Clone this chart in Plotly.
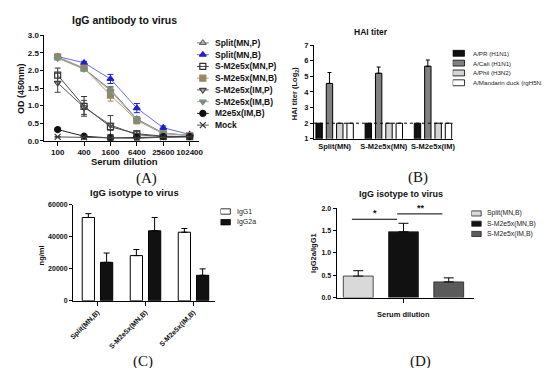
import plotly.graph_objects as go

W, H = 550, 368

# ---------------- data ----------------
# Panel A: IgG antibody to virus (OD 450nm)
dilutions = ["100", "400", "1600", "6400", "25600", "102400"]
a_names = ["Split(MN,P)", "Split(MN,B)", "S-M2e5x(MN,P)", "S-M2e5x(MN,B)",
           "S-M2e5x(IM,P)", "S-M2e5x(IM,B)", "M2e5x(IM,B)", "Mock"]
od_split_mn_p = [2.37, 2.05, 1.46, 0.62, 0.22, 0.15]
od_split_mn_b = [2.40, 2.22, 1.76, 0.93, 0.37, 0.18]
od_sm2e_mn_p = [1.87, 0.98, 0.40, 0.20, 0.13, 0.12]
od_sm2e_mn_b = [2.39, 2.07, 1.30, 0.58, 0.20, 0.15]
od_sm2e_im_p = [1.65, 0.95, 0.45, 0.17, 0.12, 0.12]
od_sm2e_im_b = [2.35, 2.04, 1.42, 0.60, 0.22, 0.15]
od_m2e_im_b = [0.32, 0.13, 0.08, 0.10, 0.12, 0.12]
od_mock = [0.11, 0.10, 0.08, 0.07, 0.10, 0.11]
err_split_mn_p = [0.03, 0.05, 0.08, 0.06, 0.03, 0.02]
err_split_mn_b = [0.03, 0.04, 0.13, 0.13, 0.05, 0.03]
err_sm2e_mn_p = [0.20, 0.28, 0.10, 0.08, 0.03, 0.02]
err_sm2e_mn_b = [0.03, 0.06, 0.17, 0.10, 0.04, 0.02]
err_sm2e_im_p = [0.27, 0.20, 0.27, 0.10, 0.03, 0.02]
err_sm2e_im_b = [0.03, 0.05, 0.10, 0.07, 0.03, 0.02]
err_m2e_im_b = [0.04, 0.02, 0.02, 0.02, 0.02, 0.02]
err_mock = [0.01, 0.01, 0.01, 0.01, 0.01, 0.01]
a_values = [od_split_mn_p, od_split_mn_b, od_sm2e_mn_p, od_sm2e_mn_b,
            od_sm2e_im_p, od_sm2e_im_b, od_m2e_im_b, od_mock]
a_errors = [err_split_mn_p, err_split_mn_b, err_sm2e_mn_p, err_sm2e_mn_b,
            err_sm2e_im_p, err_sm2e_im_b, err_m2e_im_b, err_mock]

# Panel B: HAI titer (log2)
hai_groups = ["Split(MN)", "S-M2e5x(MN)", "S-M2e5x(IM)"]
hai_strains = ["A/PR (H1N1)", "A/Cali (H1N1)", "A/Phil (H3N2)", "A/Mandarin duck (rgH5N1)"]
hai_pr = [2, 2, 2]
hai_cali = [4.55, 5.2, 5.65]
hai_cali_err = [0.7, 0.4, 0.4]
hai_phil = [2, 2, 2]
hai_duck = [2, 2, 2]
hai_limit = 2

# Panel C: IgG isotype to virus (ng/ml)
iso_groups = ["Split(MN,B)", "S-M2e5x(MN,B)", "S-M2e5x(IM,B)"]
iso_names = ["IgG1", "IgG2a"]
igg1 = [52000, 28200, 42800]
igg1_err = [2400, 3800, 2300]
igg2a = [24000, 43700, 15900]
igg2a_err = [5800, 8300, 4000]

# Panel D: IgG2a/IgG1 ratio
ratio_groups = ["Split(MN,B)", "S-M2e5x(MN,B)", "S-M2e5x(IM,B)"]
ratio = [0.48, 1.47, 0.35]
ratio_err = [0.12, 0.19, 0.09]
sig_pairs = [(0, 1), (1, 2)]
sig_labels = ["*", "**"]
sig_heights = [1.75, 1.87]

# ---------------- styles ----------------
SANS = "Liberation Sans, Arial, sans-serif"
SERIF = "Liberation Serif, Times New Roman, serif"
a_styles = [
    dict(symbol="triangle-up-open", mc="#666666", lc="#777777"),
    dict(symbol="triangle-up", mc="#2020cc", lc="#6a6ae8"),
    dict(symbol="square-open", mc="#333333", lc="#444444"),
    dict(symbol="square", mc="#9a8462", lc="#b09c7a"),
    dict(symbol="triangle-down-open", mc="#444444", lc="#555555"),
    dict(symbol="triangle-down", mc="#7a8e7e", lc="#9aab9c"),
    dict(symbol="circle", mc="#111111", lc="#222222"),
    dict(symbol="x-thin-open", mc="#333333", lc="#555555"),
]
hai_colors = ["#111111", "#808080", "#d4d4d4", "#ffffff"]
iso_colors = ["#ffffff", "#111111"]
ratio_colors = ["#d9d9d9", "#111111", "#5a5a5a"]


def px_x(p):
    return p / W


def px_y(p):
    return 1 - p / H


fig = go.Figure()
ann = []
shapes = []


def axis_style(**kw):
    d = dict(showline=True, linecolor="black", linewidth=1, ticks="outside",
             ticklen=4, tickcolor="black", tickwidth=1, showgrid=False,
             zeroline=False, fixedrange=True)
    d.update(kw)
    return d


def hidden_axis(**kw):
    d = dict(visible=False, showgrid=False, zeroline=False, fixedrange=True)
    d.update(kw)
    return d


def text(x, y, t, size, bold=False, family=SANS, angle=0, color="#111111",
         xanchor="center", xref="paper", yref="paper", yanchor="middle"):
    ann.append(dict(x=x, y=y, xref=xref, yref=yref, text=t, showarrow=False,
                    xanchor=xanchor, yanchor=yanchor, textangle=angle, borderpad=0,
                    font=dict(family=family, size=size, color=color,
                              weight="bold" if bold else "normal")))


# ---------------- Panel A ----------------
for name, vals, errs, st in zip(a_names, a_values, a_errors, a_styles):
    fig.add_trace(go.Scatter(
        x=dilutions, y=vals, mode="lines+markers", name=name, xaxis="x", yaxis="y",
        line=dict(color=st["lc"], width=1),
        marker=dict(symbol=st["symbol"], size=6, color=st["mc"],
                    line=dict(color=st["mc"], width=1.2)),
        error_y=dict(type="data", array=errs, color=st["mc"], thickness=1, width=3),
        showlegend=False))

# legend A (drawn on its own small axis)
for i, (name, st) in enumerate(zip(a_names, a_styles)):
    fig.add_trace(go.Scatter(x=[0, 1], y=[i, i], mode="lines", xaxis="x5", yaxis="y5",
                             line=dict(color=st["lc"], width=1), showlegend=False,
                             hoverinfo="skip"))
    fig.add_trace(go.Scatter(x=[0.5], y=[i], mode="markers", xaxis="x5", yaxis="y5",
                             marker=dict(symbol=st["symbol"], size=6, color=st["mc"],
                                         line=dict(color=st["mc"], width=1.2)),
                             showlegend=False, hoverinfo="skip"))
    text(1.42, i, name, 8.5, bold=True, xanchor="left", xref="x5", yref="y5")

text(px_x(114), px_y(8), "IgG antibody to virus", 10.5, bold=True)
text(px_x(114), px_y(153), "Serum dilution", 9.5, bold=True)
text(px_x(9), px_y(78), "OD (450nm)", 9, bold=True, angle=-90)
text(px_x(137), px_y(171), "(A)", 15, family=SERIF)

# ---------------- Panel B ----------------
hai_series = [hai_pr, hai_cali, hai_phil, hai_duck]
hai_errs = [None, hai_cali_err, None, None]
bw_b = 0.13
pitch_b = 0.21
for k, (name, vals, errs, col) in enumerate(zip(hai_strains, hai_series, hai_errs, hai_colors)):
    center = (k - 1.5) * pitch_b
    fig.add_trace(go.Bar(
        x=list(range(len(hai_groups))), y=vals, name=name, xaxis="x2", yaxis="y2",
        width=bw_b, offset=center - bw_b / 2,
        marker=dict(color=col, line=dict(color="black", width=1)),
        error_y=(dict(type="data", array=errs, arrayminus=[0] * len(errs), symmetric=False,
                      color="black", thickness=1, width=2) if errs else None),
        showlegend=False))
shapes.append(dict(type="line", xref="x2 domain", yref="y2", x0=0, x1=1,
                   y0=hai_limit, y1=hai_limit, line=dict(color="black", width=1, dash="dot")))

for i, (name, col) in enumerate(zip(hai_strains, hai_colors)):
    fig.add_trace(go.Bar(x=[1], y=[i], base=0, orientation="h", width=0.6, offset=-0.3,
                         xaxis="x6", yaxis="y6",
                         marker=dict(color=col, line=dict(color="black", width=0.8)),
                         showlegend=False, hoverinfo="skip"))
    text(1.68, i, name, 6.2, xanchor="left", xref="x6", yref="y6", color="#222222")

text(px_x(365), px_y(21), "HAI titer", 8.5, bold=True)
text(px_x(288), px_y(84), "HAI titer (Log<sub>2</sub>)", 7.5, bold=True, angle=-90)
text(px_x(413), px_y(170), "(B)", 15, family=SERIF)

# ---------------- Panel C ----------------
iso_series = [igg1, igg2a]
iso_errs = [igg1_err, igg2a_err]
bw_c = 0.255
for k, (name, vals, errs, col) in enumerate(zip(iso_names, iso_series, iso_errs, iso_colors)):
    center = (k - 0.5) * 0.38
    fig.add_trace(go.Bar(
        x=list(range(len(iso_groups))), y=vals, name=name, xaxis="x3", yaxis="y3",
        width=bw_c, offset=center - bw_c / 2,
        marker=dict(color=col, line=dict(color="black", width=1)),
        error_y=dict(type="data", array=errs, arrayminus=[0] * len(errs), symmetric=False,
                     color="black", thickness=1, width=3),
        showlegend=False))

for i, (name, col) in enumerate(zip(iso_names, iso_colors)):
    fig.add_trace(go.Bar(x=[1], y=[i], base=0, orientation="h", width=0.5, offset=-0.25,
                         xaxis="x7", yaxis="y7",
                         marker=dict(color=col, line=dict(color="black", width=0.8)),
                         showlegend=False, hoverinfo="skip"))
    text(1.6, i, name, 7, xanchor="left", xref="x7", yref="y7", color="#222222")

text(px_x(125), px_y(185), "IgG isotype to virus", 9.5, bold=True)
text(px_x(30), px_y(250), "ng/ml", 7.5, bold=True, angle=-90)
text(px_x(133), px_y(358), "(C)", 15, family=SERIF)

# ---------------- Panel D ----------------
bw_d = 0.66
for i, (name, v, e, col) in enumerate(zip(ratio_groups, ratio, ratio_err, ratio_colors)):
    fig.add_trace(go.Bar(
        x=[i], y=[v], name=name, xaxis="x4", yaxis="y4",
        width=bw_d, offset=-bw_d / 2,
        marker=dict(color=col, line=dict(color="#222222", width=0.8)),
        error_y=dict(type="data", array=[e], arrayminus=[0], symmetric=False,
                     color="black", thickness=1, width=5),
        showlegend=False))

for (a, b), lab, h in zip(sig_pairs, sig_labels, sig_heights):
    fig.add_trace(go.Scatter(x=[a - 0.14, b - 0.14], y=[h, h], mode="lines",
                             xaxis="x4", yaxis="y4", line=dict(color="black", width=1),
                             showlegend=False, hoverinfo="skip"))
    text((a + b) / 2 - 0.12, h, lab, 9, bold=True, xref="x4", yref="y4",
         yanchor="bottom")

for i, (name, col) in enumerate(zip(ratio_groups, ratio_colors)):
    fig.add_trace(go.Bar(x=[1], y=[i], base=0, orientation="h", width=0.5, offset=-0.25,
                         xaxis="x8", yaxis="y8",
                         marker=dict(color=col, line=dict(color="#222222", width=0.8)),
                         showlegend=False, hoverinfo="skip"))
    text(1.5, i, name, 6.8, xanchor="left", xref="x8", yref="y8", color="#222222")

text(px_x(395), px_y(187), "IgG isotype to virus", 9, bold=True)
text(px_x(307), px_y(247), "IgG2a/IgG1", 7.5, bold=True, angle=-90)
text(px_x(398), px_y(310), "Serum dilution", 7.5, bold=True)
text(px_x(415), px_y(358), "(D)", 15, family=SERIF)

# ---------------- layout ----------------
tickA = dict(family=SANS, size=8, color="#111111", weight="bold")
tickB = dict(family=SANS, size=7.5, color="#111111", weight="bold")
tickC = dict(family=SANS, size=7, color="#111111", weight="bold")

fig.update_layout(
    width=W, height=H, autosize=False,
    margin=dict(l=0, r=0, t=0, b=0),
    paper_bgcolor="white", plot_bgcolor="rgba(0,0,0,0)",
    barmode="overlay", showlegend=False,
    annotations=ann, shapes=shapes,
    # Panel A
    xaxis=axis_style(domain=[px_x(33), px_x(190)], anchor="y", type="category",
                     range=[-0.5, 5.35], tickfont=tickA, tickangle=0),
    yaxis=axis_style(domain=[px_y(132), px_y(24)], anchor="x", range=[0, 3.0],
                     dtick=0.5, tickformat=".1f", tickfont=tickA, ticklen=3),
    # Panel B
    xaxis2=axis_style(domain=[px_x(307), px_x(448)], anchor="y2", range=[-0.42, 2.4],
                      tickvals=list(range(len(hai_groups))), ticktext=hai_groups,
                      tickfont=tickB, tickangle=0, ticks=""),
    yaxis2=axis_style(domain=[px_y(130), px_y(34)], anchor="x2", range=[1, 7],
                      dtick=1, tickfont=tickB, ticklen=3),
    # Panel C
    xaxis3=axis_style(domain=[px_x(62), px_x(206)], anchor="y3", range=[-0.51, 2.44],
                      tickvals=list(range(len(iso_groups))), ticktext=iso_groups,
                      tickangle=-45, tickfont=dict(family=SANS, size=7, color="#111111",
                                                   weight="bold")),
    yaxis3=axis_style(domain=[px_y(296), px_y(197.5)], anchor="x3", range=[0, 60000],
                      dtick=20000, tickformat="d", tickfont=tickC, ticklen=3),
    # Panel D
    xaxis4=axis_style(domain=[px_x(330), px_x(470)], anchor="y4", range=[-0.478, 2.565],
                      tickvals=[1], showticklabels=False),
    yaxis4=axis_style(domain=[px_y(292.7), px_y(201)], anchor="x4", range=[0, 2.0],
                      dtick=0.5, tickformat=".1f", tickfont=tickC, ticklen=3),
    # legend axes
    xaxis5=hidden_axis(domain=[px_x(188), px_x(268)], anchor="y5", range=[0, 80 / 12]),
    yaxis5=hidden_axis(domain=[px_y(122), px_y(25.7)], anchor="x5", range=[7.5, -0.5]),
    xaxis6=hidden_axis(domain=[px_x(448), px_x(550)], anchor="y6", range=[0, 102 / 12]),
    yaxis6=hidden_axis(domain=[px_y(77.6), px_y(37.3)], anchor="x6", range=[3.5, -0.5]),
    xaxis7=hidden_axis(domain=[px_x(212), px_x(262)], anchor="y7", range=[0, 5]),
    yaxis7=hidden_axis(domain=[px_y(221), px_y(199)], anchor="x7", range=[1.5, -0.5]),
    xaxis8=hidden_axis(domain=[px_x(467), px_x(549)], anchor="y8", range=[0, 8.2]),
    yaxis8=hidden_axis(domain=[px_y(232.75), px_y(201.25)], anchor="x8", range=[2.5, -0.5]),
)

fig.write_html("out.html")
